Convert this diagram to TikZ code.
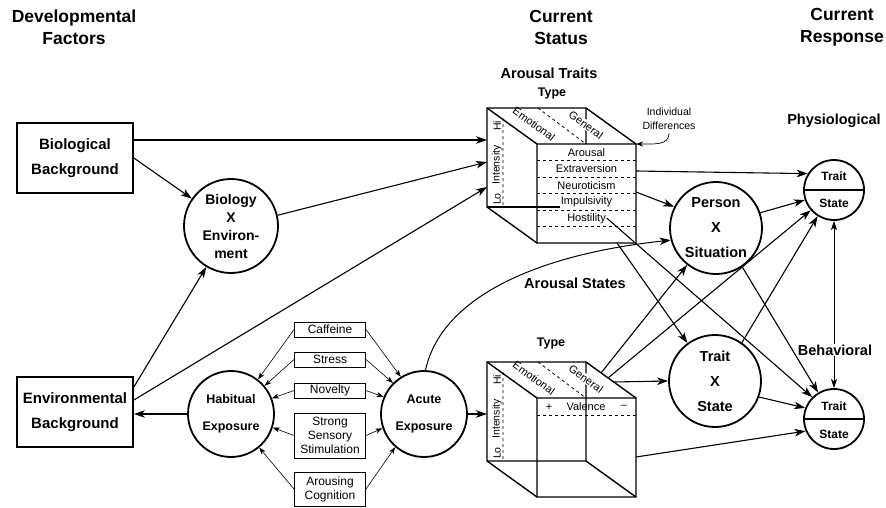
\documentclass[tikz,border=0pt]{standalone}
\usepackage{fontspec}
\setmainfont{Liberation Sans}
\usetikzlibrary{arrows.meta,calc}

\newcommand{\fsz}[2]{\fontsize{#1}{#2}\selectfont}

\begin{document}
\begin{tikzpicture}[x=1pt,y=-1pt,
  every node/.style={font=\fsz{11}{13}},
  head/.style={align=center,font=\fsz{17.5}{22}\bfseries},
  lbl/.style={font=\fsz{14.5}{17}\bfseries},
  typetxt/.style={font=\fsz{12.5}{15}\bfseries},
  bgbox/.style={draw,line width=1.7pt,minimum width=116pt,minimum height=70pt,align=center,font=\fsz{15}{25}\bfseries},
  stim/.style={draw,line width=1pt,minimum width=71pt,inner sep=1pt,align=center,font=\fsz{12}{14}},
  bigc/.style={circle,draw,line width=1.8pt,minimum size=92pt,inner sep=0pt,align=center,font=\fsz{14.5}{25}\bfseries},
  midc/.style={circle,draw,line width=1.8pt,minimum size=86pt,inner sep=0pt,align=center,font=\fsz{12.5}{27}\bfseries},
  smc/.style={circle,draw,line width=1.8pt,minimum size=60pt,inner sep=0pt},
  smtxt/.style={font=\fsz{12}{14}\bfseries,inner sep=0pt},
  cube/.style={line width=1.4pt},
  rowtxt/.style={inner sep=1pt},
  facetxt/.style={font=\fsz{11}{13},inner sep=0.5pt},
  conn/.style={line width=1.1pt,-{Stealth[length=11pt,width=7.5pt,inset=3pt]}},
  thinarr/.style={line width=0.6pt,-{Stealth[length=7pt,width=5pt,inset=2pt]}}]
\useasboundingbox (0,0) rectangle (886,507);

% column headings
\node[head] (h-dev) at (74,27) {Developmental\\Factors};
\node[head] (h-stat) at (561,27) {Current\\Status};
\node[head] (h-resp) at (842,27) {Current\\Response};

% developmental side
\node[bgbox] (bio) at (75,158) {Biological\\Background};
\node[bgbox] (env) at (75,412) {Environmental\\Background};
\node[circle,draw,line width=1.8pt,minimum size=94pt,inner sep=0pt,align=center,font=\fsz{14}{18}\bfseries] (bioenv) at (231,226) {Biology\\X\\Environ-\\ment};
\node[midc] (habit) at (231,414) {Habitual\\Exposure};
\node[midc] (acute) at (424,414) {Acute\\Exposure};

\foreach \n/\y/\h/\t in {caff/329.5/15/Caffeine, stress/359.5/15/Stress, novel/390.5/15/Novelty,
    sens/435.5/45/{Strong\\Sensory\\Stimulation}, cogn/489/34/{Arousing\\Cognition}}
  \node[stim,minimum height=\h pt] (\n) at (330,\y) {\t};

% the two cubes
\foreach \c/\yy in {tr/108,st/362}{
  \begin{scope}[shift={(487,\yy)}]
    \draw[cube] (0,0) -- (99,0) -- (149,36) -- (149,135) -- (50,135) -- (0,99) -- cycle;
    \draw[cube] (0,0) -- (50,36) -- (149,36) (50,36) -- (50,135) (99,0) -- (99,36);
    \draw[dashed,line width=0.8pt] (51,0) -- (99,36) (16,10) -- (16,98);
    \coordinate (\c-ftr) at (149,36);
    \node[facetxt,rotate=-36] (\c-emo) at (47,16) {Emotional};
    \node[facetxt,rotate=-36,fill=white] (\c-gen) at (99,17) {General};
    \foreach \t/\y in {Hi/18,Intensity/57,Lo/91}
      \node[facetxt,font=\fsz{10.5}{12},rotate=90] (\c-\t) at (10,\y) {\t};
  \end{scope}
}

% trait rows
\begin{scope}[shift={(487,108)}]
  \foreach \t [count=\i] in {Arousal,Extraversion,Neuroticism,Impulsivity,Hostility}
    \node[rowtxt] (row\i) at (99.5,{27.75+16.5*\i}) {\t};
  \foreach \i in {1,...,5}
    \draw[dashed,line width=0.8pt] (50,{36+16.5*\i}) -- (149,{36+16.5*\i});
  \coordinate (tr-bbl) at (0,99);
  \draw[cube] (tr-bbl) -- (tr-bbl -| row4.west);
  \coordinate (tr-i1) at (0,32);
  \coordinate (tr-i2) at (0,54);
  \coordinate (tr-i3) at (0,79);
  \coordinate (tr-o1) at (149,63);
  \coordinate (tr-o2) at (149,84);
  \coordinate (tr-o3) at (130,135);
\end{scope}

% state cube, hidden edges and valence
\begin{scope}[shift={(487,362)}]
  \draw[cube] (99,36) -- (99,99) -- (0,99) (99,99) -- (149,135);
  \draw[dashed,line width=0.8pt] (50,53) -- (149,53);
  \node (st-plus) at (62,45) {+};
  \node (st-val) at (99,45) {Valence};
  \node (st-minus) at (137,45) {--};
  \coordinate (st-i1) at (0,52);
  \coordinate (st-o1) at (114,11);
  \coordinate (st-o2) at (121,16);
  \coordinate (st-o3) at (126,20);
  \coordinate (st-o4) at (149,95);
\end{scope}

\node[lbl] (l-traits) at (549,73) {Arousal Traits};
\node[typetxt] (l-ttype) at (552,93) {Type};
\node[lbl] (l-states) at (575,283) {Arousal States};
\node[typetxt] (l-stype) at (551,343) {Type};
\node[align=center,font=\fsz{10.5}{14}] (indiv) at (669,119) {Individual\\Differences};

% current response side
\node[bigc] (pxs) at (716,228) {Person\\X\\Situation};
\node[bigc] (txs) at (715,381) {Trait\\X\\State};
\node[smc] (phys) at (834,190) {};
\node[smc] (behav) at (834,419) {};
\draw[line width=1.5pt] (phys.west) -- (phys.east) (behav.west) -- (behav.east);
\node[smtxt] (phys-tr) at ([yshift=14pt]phys.center) {Trait};
\node[smtxt] (phys-st) at ([yshift=-13pt]phys.center) {State};
\node[smtxt] (behav-tr) at ([yshift=13pt]behav.center) {Trait};
\node[smtxt] (behav-st) at ([yshift=-15pt]behav.center) {State};
\node[lbl] (l-phys) at (834,121) {Physiological};

% stimulus arrows
\foreach \n/\a/\b in {caff/52/122, stress/40/135, novel/21/157, sens/-18/-161, cogn/-50/-131}{
  \draw[thinarr] (\n.west) -- (habit.\a);
  \draw[thinarr] (\n.east) -- (acute.\b);
}

% connectors
\draw[conn] ([yshift=18pt]bio.east) -- (tr-i1);
\draw[conn] (bio.east) -- (bioenv);
\draw[conn] (bioenv.13) -- (tr-i2);
\draw[conn] ([yshift=25pt]env.east) -- (bioenv);
\draw[conn] ([yshift=12pt]env.east) -- (tr-i3);
\draw[conn] (habit) -- (env.east |- habit);
\draw[conn] (acute) -- (st-i1);
\draw[line width=1pt,-{Stealth[length=11pt,width=7.5pt,inset=3pt]}] (acute.88) .. controls +(15,-70) and +(-140,15) .. (pxs.195);
\draw[line width=0.7pt,-{Stealth[length=7pt,width=5pt,inset=2pt]}] (indiv.south) .. controls +(0,12) and +(18,0) .. (tr-ftr);
\draw[conn] (tr-o1) -- (phys.148);
\draw[conn] (tr-o2) -- (pxs.153);
\draw[conn] (tr-o3) -- (txs.126);
\draw[conn] (row5.east) -- (behav.135);
\draw[conn] (pxs.19) -- (phys.199);
\draw[conn] (pxs.-56) -- (behav.121);
\draw[conn] (st-o1) -- (pxs.232);
\draw[conn] (st-o2) -- (phys.221);
\draw[conn] (st-o3) -- (txs.180);
\draw[conn] (st-o4) -- (behav.203);
\draw[conn] (txs.55) -- (phys.238);
\draw[conn] (txs.-20) -- (behav.159);
\draw[line width=0.8pt,{Stealth[length=9pt,width=6pt,inset=2pt]}-{Stealth[length=9pt,width=6pt,inset=2pt]}] (phys) -- (behav);
\node[lbl,fill=white,inner sep=1pt] (l-behav) at (835,350) {Behavioral};
\end{tikzpicture}
\end{document}
